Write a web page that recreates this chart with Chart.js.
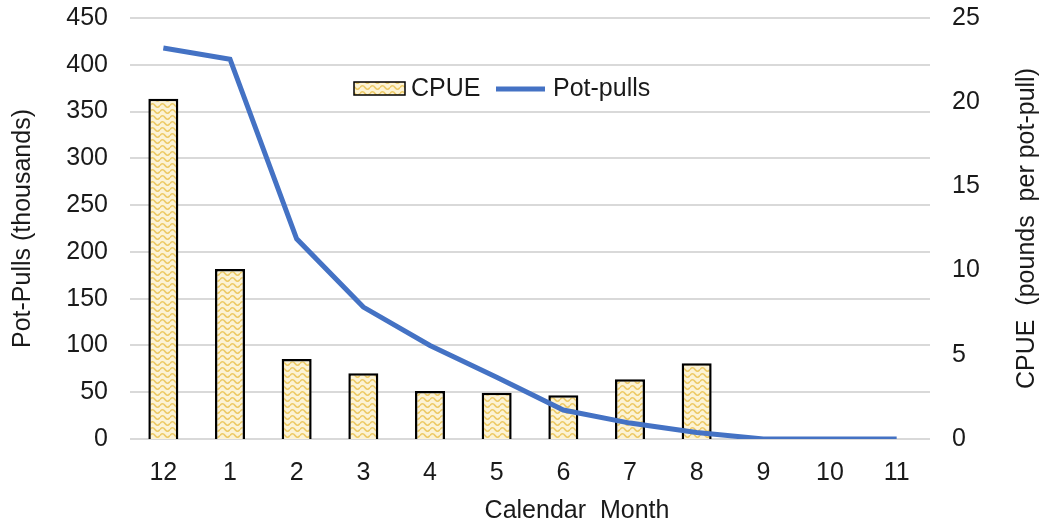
<!DOCTYPE html>
<html>
<head>
<meta charset="utf-8">
<script src="https://cdn.jsdelivr.net/npm/chart.js@4"></script>
<style>
  body { margin: 0; background: #fff; }
  #wrap { width: 1046px; height: 527px; }
</style>
</head>
<body>
<div id="wrap"><canvas id="chart"></canvas></div>
<script>
// data
const months = ['12', '1', '2', '3', '4', '5', '6', '7', '8', '9', '10', '11'];
const cpue = [20.2, 10.1, 4.75, 3.9, 2.85, 2.75, 2.6, 3.55, 4.5, 0, 0, 0];
const potPulls = [418, 406, 214, 141, 100, 66, 31, 17, 7, 0, 0, 0];
const leftTicks = [0, 50, 100, 150, 200, 250, 300, 350, 400, 450];
const rightTicks = [0, 5, 10, 15, 20, 25];

const FONT = '"Liberation Sans", Arial, sans-serif';
const TEXT = '#1a1a1a';
const SIZE = 25;

// wavy yellow fill like the excel pattern
function wavePattern() {
    const t = document.createElement('canvas');
    t.width = 10; t.height = 6;
    const g = t.getContext('2d');
    g.fillStyle = '#fcf3d6';
    g.fillRect(0, 0, 10, 6);
    g.strokeStyle = '#edca66';
    g.lineWidth = 1.7;
    g.beginPath();
    g.moveTo(0, 3.5);
    g.quadraticCurveTo(2.5, 0, 5, 3.5);
    g.quadraticCurveTo(7.5, 7, 10, 3.5);
    g.stroke();
    return document.getElementById('chart').getContext('2d').createPattern(t, 'repeat');
}
const fill = wavePattern();

// legend, x title (sits right of centre) and right title (reads bottom-up) drawn by hand
const extras = {
    id: 'extras',
    afterDraw(chart) {
        const c = chart.ctx;
        c.save();
        c.font = SIZE + 'px ' + FONT;
        c.textBaseline = 'middle';

        c.fillStyle = fill;
        c.fillRect(354, 82, 51, 13);
        c.strokeStyle = '#000';
        c.lineWidth = 1.5;
        c.strokeRect(354, 82, 51, 13);
        c.fillStyle = TEXT;
        c.fillText('CPUE', 411, 89);

        c.strokeStyle = '#4472c4';
        c.lineWidth = 5;
        c.beginPath();
        c.moveTo(496, 89);
        c.lineTo(545, 89);
        c.stroke();
        c.fillText('Pot-pulls', 553, 89);

        c.textAlign = 'center';
        c.fillText('Calendar  Month', 577, 511);

        const a = chart.chartArea;
        c.translate(1027, (a.top + a.bottom) / 2);
        c.rotate(-Math.PI / 2);
        c.fillText('CPUE  (pounds  per pot-pull)', 0, 0);
        c.restore();
    }
};

new Chart(document.getElementById('chart'), {
    type: 'bar',
    data: {
        labels: months,
        datasets: [{
            type: 'line',
            label: 'Pot-pulls',
            data: potPulls,
            yAxisID: 'y',
            borderColor: '#4472c4',
            borderWidth: 5,
            pointRadius: 0,
            tension: 0,
            order: 0
        }, {
            type: 'bar',
            label: 'CPUE',
            data: cpue,
            yAxisID: 'y1',
            backgroundColor: fill,
            borderColor: '#000',
            borderWidth: 2.5,
            categoryPercentage: 1,
            barPercentage: 0.45,
            order: 1
        }]
    },
    options: {
        responsive: true,
        maintainAspectRatio: false,
        animation: false,
        layout: { padding: { top: 18 } },
        plugins: { legend: { display: false }, tooltip: { enabled: false } },
        scales: {
            x: {
                grid: { display: false },
                border: { display: false },
                ticks: { color: TEXT, font: { size: SIZE, family: FONT }, padding: 11 },
                afterFit: s => { s.height = 88; }
            },
            y: {
                position: 'left',
                min: leftTicks[0],
                max: leftTicks[leftTicks.length - 1],
                afterBuildTicks: s => { s.ticks = leftTicks.map(v => ({ value: v })); },
                grid: { color: '#d9d9d9', lineWidth: 2, drawTicks: false },
                border: { display: false },
                ticks: { color: TEXT, font: { size: SIZE, family: FONT }, padding: 22 },
                title: { display: true, text: 'Pot-Pulls (thousands)', color: TEXT, font: { size: SIZE, family: FONT }, padding: { top: 8, bottom: 0 } },
                afterFit: s => { s.width = 130; s.paddingTop = 0; s.paddingBottom = 0; }
            },
            y1: {
                position: 'right',
                min: rightTicks[0],
                max: rightTicks[rightTicks.length - 1],
                afterBuildTicks: s => { s.ticks = rightTicks.map(v => ({ value: v })); },
                grid: { display: false, drawTicks: false },
                border: { display: false },
                ticks: { color: TEXT, font: { size: SIZE, family: FONT }, padding: 22 },
                afterFit: s => { s.width = 116; s.paddingTop = 0; s.paddingBottom = 0; }
            }
        }
    },
    plugins: [extras]
});
</script>
</body>
</html>
